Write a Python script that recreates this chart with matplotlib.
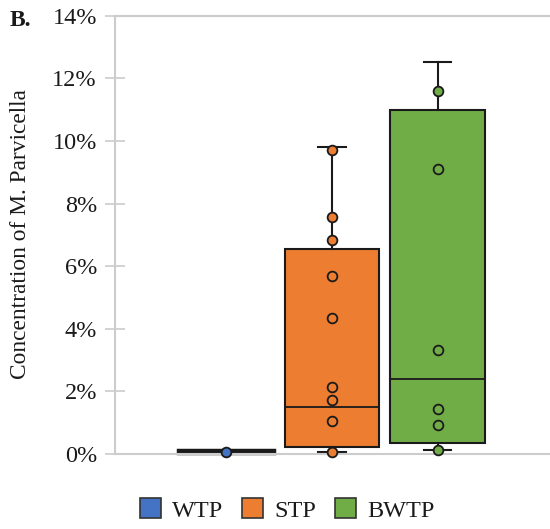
import numpy as np
import matplotlib
matplotlib.use("Agg")
import matplotlib.pyplot as plt
from matplotlib.patches import Patch
from matplotlib.ticker import FuncFormatter

# values in percent
groups = ["WTP", "STP", "BWTP"]
colors = ["#4472C4", "#ED7D31", "#70AD47"]

wtp_points = [0.05]
stp_points = [9.72, 7.58, 6.84, 5.70, 4.35, 2.14, 1.73, 1.05, 0.05]
bwtp_points = [11.60, 9.12, 3.32, 1.43, 0.93, 0.13]

# box statistics as drawn (Excel box & whisker)
q1 = [0.04, 0.23, 0.34]
med = [0.06, 1.49, 2.39]
q3 = [0.08, 6.55, 10.99]
whislo = [0.04, 0.05, 0.13]
whishi = [0.08, 9.80, 12.54]

yticks = [0, 2, 4, 6, 8, 10, 12, 14]

plt.rcParams['font.family'] = ['Liberation Serif', 'DejaVu Serif']

fig = plt.figure(figsize=(5.5, 5.29), dpi=100)
ax = fig.add_axes([0.209, 0.142, 0.791, 0.828])

stats = []
for i, g in enumerate(groups):
    stats.append(dict(label=g, q1=q1[i], med=med[i], q3=q3[i],
                      whislo=whislo[i], whishi=whishi[i], fliers=[]))

pos = [1, 2, 3]
bp = ax.bxp(stats, positions=pos, widths=0.9, capwidths=0.26,
            patch_artist=True, showfliers=False,
            boxprops=dict(edgecolor='#1a1a1a', linewidth=1.5),
            medianprops=dict(color='#1a1a1a', linewidth=1.3),
            whiskerprops=dict(color='#1a1a1a', linewidth=1.5),
            capprops=dict(color='#1a1a1a', linewidth=1.5))
for patch, c in zip(bp['boxes'], colors):
    patch.set_facecolor(c)
    patch.set_clip_on(False)
# the WTP box is almost flat: drawn as a thick dark bar
bp['boxes'][0].set_linewidth(3.2)
bp['medians'][0].set_linewidth(3.2)
bp['medians'][0].set_clip_on(False)

for p, pts, c in zip(pos, [wtp_points, stp_points, bwtp_points], colors):
    ax.plot([p] * len(pts), pts, 'o', markersize=7, markerfacecolor=c,
            markeredgecolor='#1a1a1a', markeredgewidth=1.3, zorder=5,
            clip_on=False)

ax.set_xlim(-0.057, 4.066)
ax.set_ylim(0, 14)
ax.set_yticks(yticks)
ax.yaxis.set_major_formatter(FuncFormatter(lambda v, _: '%d%%' % v))
ax.set_xticks([])

for s in ['left', 'top', 'bottom']:
    ax.spines[s].set_color('#cccccc')
    ax.spines[s].set_linewidth(1.5)
ax.spines['right'].set_visible(False)
ax.tick_params(axis='y', direction='inout', length=14, width=1.2,
               color='#cccccc', labelsize=17.5, labelcolor='#1a1a1a', pad=6)

fig.text(0.037, 0.558, 'Concentration of M. Parvicella', rotation=90,
         ha='center', va='center', fontsize=16.8, color='#1a1a1a')
fig.text(0.018, 0.962, 'B.', fontsize=17, fontweight='bold',
         ha='left', va='center', color='#1a1a1a')

handles = [Patch(facecolor=c, edgecolor='#333333', linewidth=1.2, label=g)
           for g, c in zip(groups, colors)]
fig.legend(handles=handles, loc='center', bbox_to_anchor=(0.522, 0.036),
           ncol=3, frameon=False, fontsize=17.5, handlelength=0.85,
           handleheight=0.85, handletextpad=0.45, columnspacing=0.8,
           labelcolor='#1a1a1a')

fig.savefig('out.png', dpi=100)
